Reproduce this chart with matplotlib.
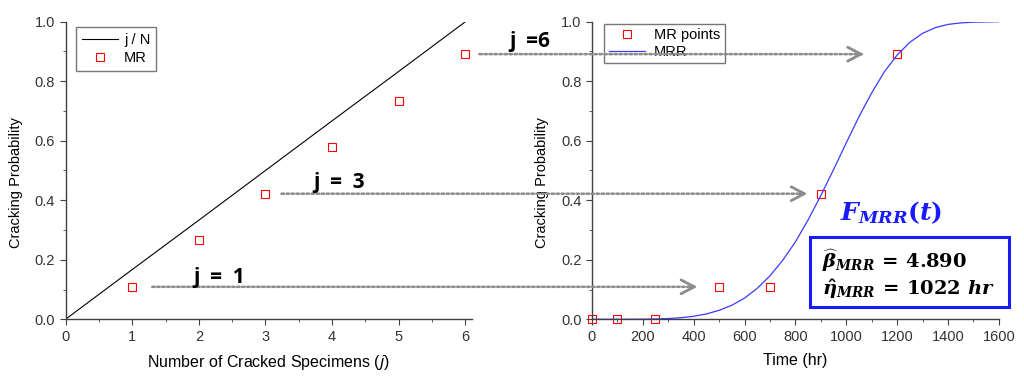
import matplotlib
matplotlib.use("Agg")
import matplotlib.pyplot as plt
from matplotlib.patches import ConnectionPatch, Rectangle
from matplotlib.ticker import MultipleLocator

# left panel: j/N line and median ranks
j_vals = [0, 1, 2, 3, 4, 5, 6]
jn_vals = [0.0, 0.167, 0.333, 0.5, 0.667, 0.833, 1.0]
mr_j = [1, 2, 3, 4, 5, 6]
mr_prob = [0.109, 0.266, 0.422, 0.578, 0.734, 0.891]

# right panel: MR points vs time and fitted MRR curve
mr_time = [0, 100, 250, 500, 700, 900, 1200]
mr_time_prob = [0.0, 0.0, 0.0, 0.109, 0.109, 0.422, 0.891]
mrr_t = [0, 100, 200, 250, 300, 350, 400, 450, 500, 550, 600, 650, 700, 750, 800,
         850, 900, 950, 1000, 1050, 1100, 1150, 1200, 1250, 1300, 1350, 1400,
         1450, 1500, 1600]
mrr_f = [0.0, 0.0, 0.0003, 0.001, 0.0025, 0.0053, 0.0101, 0.0179, 0.030, 0.047,
         0.071, 0.104, 0.146, 0.198, 0.260, 0.334, 0.416, 0.503, 0.593, 0.681,
         0.761, 0.832, 0.888, 0.931, 0.961, 0.980, 0.991, 0.996, 0.9985, 1.0]

# arrows: start j on left, end time on right, probability
arrow_start = [1.3, 3.24, 6.21]
arrow_end = [414, 847, 1069]
arrow_prob = [0.109, 0.422, 0.891]

plt.rcParams['font.family'] = 'Liberation Sans'
plt.rcParams['mathtext.fontset'] = 'custom'
plt.rcParams['mathtext.rm'] = 'DejaVu Serif:bold'
plt.rcParams['mathtext.it'] = 'DejaVu Serif:italic:bold'
plt.rcParams['mathtext.bf'] = 'DejaVu Serif:bold'

fig = plt.figure(figsize=(10.24, 3.81), dpi=100)
ax1 = fig.add_axes([0.064, 0.162, 0.397, 0.781])
ax2 = fig.add_axes([0.578, 0.162, 0.3975, 0.781])

for ax in (ax1, ax2):
    ax.spines['top'].set_visible(False)
    ax.spines['right'].set_visible(False)
    for s in ('left', 'bottom'):
        ax.spines[s].set_color('#404040')
        ax.spines[s].set_linewidth(1.0)
    ax.tick_params(which='major', direction='out', length=4, color='#404040',
                   labelsize=10.5, labelcolor='#333333')
    ax.tick_params(which='minor', direction='out', length=2.5, color='#404040')
    ax.set_ylim(0, 1.0)
    ax.yaxis.set_major_locator(MultipleLocator(0.2))
    ax.yaxis.set_minor_locator(MultipleLocator(0.1))
    ax.yaxis.set_major_formatter(matplotlib.ticker.FormatStrFormatter('%.1f'))

ax1.plot(j_vals, jn_vals, color='black', lw=0.8, label='j / N')
ax1.plot(mr_j, mr_prob, 's', ms=6, mfc='none', mec='red', mew=0.8, label='MR')
ax1.set_xlim(0, 6.1)
ax1.xaxis.set_major_locator(MultipleLocator(1))
ax1.xaxis.set_minor_locator(MultipleLocator(0.5))
ax1.set_xlabel('Number of Cracked Specimens ($\\mathit{j}$)', fontsize=11.5,
               math_fontfamily='dejavusans', labelpad=7)
ax1.set_ylabel('Cracking Probability', fontsize=10.5, labelpad=8)
ax1.yaxis.set_label_coords(-0.105, 0.46)
leg1 = ax1.legend(loc='upper left', bbox_to_anchor=(0.026, 0.983), borderaxespad=0,
                  fancybox=False, edgecolor='#555555', fontsize=10.5, handlelength=2.5,
                  handletextpad=0.4, borderpad=0.4, labelspacing=0.3)
leg1.get_frame().set_linewidth(1.0)

ax2.plot(mr_time, mr_time_prob, 's', ms=6, mfc='none', mec='red', mew=0.8,
         label='MR points', clip_on=False)
ax2.plot(mrr_t, mrr_f, color='#3a3aff', lw=0.9, label='MRR')
ax2.set_xlim(0, 1600)
ax2.xaxis.set_major_locator(MultipleLocator(200))
ax2.xaxis.set_minor_locator(MultipleLocator(100))
ax2.set_xlabel('Time (hr)', fontsize=11.5, labelpad=7)
ax2.set_ylabel('Cracking Probability', fontsize=10.5, labelpad=8)
ax2.yaxis.set_label_coords(-0.105, 0.46)
leg2 = ax2.legend(loc='upper left', bbox_to_anchor=(0.031, 0.993), borderaxespad=0,
                  fancybox=False, edgecolor='#555555', fontsize=10.5, handlelength=2.5,
                  handletextpad=0.6, borderpad=0.3, labelspacing=0.2)
leg2.get_frame().set_linewidth(1.0)

# dotted gray arrows from the left panel across to the right panel
for xs, xe, p in zip(arrow_start, arrow_end, arrow_prob):
    line = ConnectionPatch(xyA=(xs, p), coordsA=ax1.transData,
                           xyB=(xe - 8, p), coordsB=ax2.transData,
                           color='#8c8c8c', lw=1.8, linestyle=(0, (1, 1)))
    fig.add_artist(line)
    head = ConnectionPatch(xyA=(xe - 30, p), coordsA=ax2.transData,
                           xyB=(xe, p), coordsB=ax2.transData,
                           arrowstyle='->,head_length=0.95,head_width=0.5',
                           mutation_scale=10, color='#8c8c8c', lw=2.0)
    fig.add_artist(head)

label_font = dict(fontsize=15, fontweight='bold', family='Open Sans', color='black')
fig.text(193 / 1024, 1 - 283 / 381, 'j  =  1', va='baseline', ha='left', **label_font)
fig.text(313 / 1024, 1 - 188 / 381, 'j  =  3', va='baseline', ha='left', **label_font)
fig.text(509 / 1024, 1 - 47 / 381, 'j  =6', va='baseline', ha='left', **label_font)

fig.text(891 / 1024, 1 - 213 / 381, '$F_{MRR}(t)$', ha='center', va='center',
         fontsize=18, color='#1a1aff')

fig.add_artist(Rectangle((810 / 1024, 1 - 307 / 381), 199 / 1024, 70 / 381,
                         transform=fig.transFigure, fill=False,
                         edgecolor='#1a1aff', lw=2.2))
fig.text(822 / 1024, 1 - 268 / 381, '$\\widehat{\\beta}_{MRR}\\,=\\,4.890$',
         ha='left', va='baseline', fontsize=14, color='black')
fig.text(822 / 1024, 1 - 295 / 381, '$\\hat{\\eta}_{MRR}\\,=\\,1022\\ hr$',
         ha='left', va='baseline', fontsize=14, color='black')

fig.savefig('out.png', dpi=100)
